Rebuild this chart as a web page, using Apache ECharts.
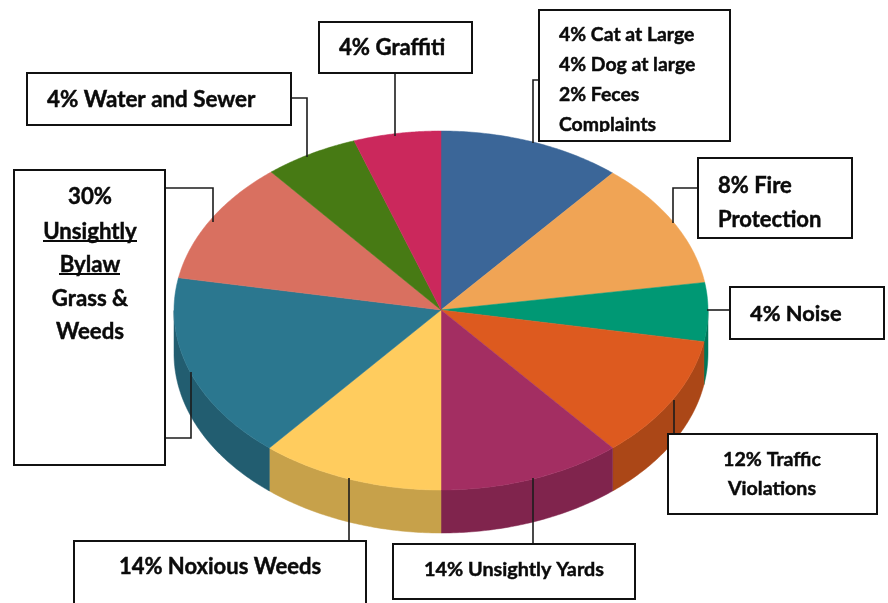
<!DOCTYPE html>
<html>
<head>
<meta charset="utf-8">
<style>html,body{margin:0;padding:0;background:#fff}#c{width:888px;height:603px}</style>
<script src="https://cdn.jsdelivr.net/npm/echarts@6/dist/echarts.min.js"></script>
</head>
<body>
<div id="c"></div>
<script>
// Slice sizes as drawn (angular degrees), clockwise from 12 o'clock
var categories = ['Cat, Dog, Feces', 'Fire Protection', 'Noise', 'Traffic Violations', 'Unsightly Yards', 'Noxious Weeds', 'Unsightly Bylaw', 'Grass & Weeds', 'Water and Sewer', 'Graffiti'];
var sliceValues = [40, 41, 19, 40, 40, 40, 60.5, 40, 20.5, 19];
var topColors = ['#3B6698', '#F0A455', '#009874', '#DD5A1F', '#A32E62', '#FFCC5E', '#2B778F', '#D97060', '#477A14', '#CB285C'];
var sideColors = ['#2E4F76', '#BC8042', '#00775A', '#AB4717', '#80244D', '#C7A14A', '#225D70', '#A9574A', '#375F10', '#9E1F48'];

var catLines = ['4% Cat at Large', '4% Dog at large', '2% Feces', 'Complaints'];
var fireLines = ['8% Fire', 'Protection'];
var noiseLabel = '4% Noise';
var trafficLines = ['12% Traffic', 'Violations'];
var yardsLabel = '14% Unsightly Yards';
var noxiousLabel = '14% Noxious Weeds';
var bylawLines = ['30%', 'Unsightly', 'Bylaw', 'Grass &', 'Weeds'];
var waterLabel = '4% Water and Sewer';
var graffitiLabel = '4% Graffiti';

var total = sliceValues.reduce(function (a, b) { return a + b; }, 0);
var CX = 441, CY = 310.5, RX = 267, RY = 179.5, DEPTH = 43;

function pt(a, dy) { return [CX + RX * Math.sin(a), CY - RY * Math.cos(a) + (dy || 0)]; }

function renderSlice(params, api) {
  var i = params.dataIndex, before = 0;
  for (var k = 0; k < i; k++) before += sliceValues[k];
  var a0 = before / total * 2 * Math.PI;
  var a1 = (before + api.value(0)) / total * 2 * Math.PI;
  var steps = 60, arc = [], t;
  for (t = 0; t <= steps; t++) arc.push(pt(a0 + (a1 - a0) * t / steps));
  var children = [];
  // side wall: only the front half of the rim is visible
  var s0 = Math.max(a0, Math.PI / 2), s1 = Math.min(a1, 1.5 * Math.PI);
  if (s1 > s0) {
    var up = [], down = [];
    for (t = 0; t <= steps; t++) {
      var a = s0 + (s1 - s0) * t / steps;
      up.push(pt(a));
      down.unshift(pt(a, DEPTH));
    }
    children.push({
      type: 'polygon', z2: 1,
      shape: { points: up.concat(down) },
      style: { fill: sideColors[i], stroke: sideColors[i], lineWidth: 0.5 }
    });
  }
  children.push({
    type: 'polygon', z2: 2,
    shape: { points: [[CX, 310]].concat(arc) },
    style: { fill: topColors[i], stroke: topColors[i], lineWidth: 0.5 }
  });
  return { type: 'group', children: children };
}

var FONT = 'Lato, Carlito, "Open Sans", sans-serif';
var INK = '#111';
function box(x0, y0, x1, y1) {
  return { type: 'rect', shape: { x: x0, y: y0, width: x1 - x0, height: y1 - y0 }, style: { fill: '#fff', stroke: INK, lineWidth: 2 } };
}
function frame(x0, y0, x1, y1) {
  return { type: 'rect', shape: { x: x0, y: y0, width: x1 - x0, height: y1 - y0 }, style: { fill: 'none', stroke: INK, lineWidth: 2 } };
}
function lead(pts) {
  return { type: 'polyline', shape: { points: pts }, style: { fill: 'none', stroke: '#1c1c1c', lineWidth: 1.6 } };
}
function rule(x0, x1, y) {
  return { type: 'polyline', shape: { points: [[x0, y], [x1, y]] }, style: { fill: 'none', stroke: '#0a0a0a', lineWidth: 2 } };
}
function txt(s, x, y, size, align) {
  return { type: 'text', style: { text: s, x: x, y: y, fill: '#0a0a0a', stroke: '#0a0a0a', lineWidth: 0.45, font: 'bold ' + size + 'px ' + FONT, textAlign: align || 'left', textVerticalAlign: 'middle' } };
}
function patch(x0, y0, x1, y1) {
  return { type: 'rect', shape: { x: x0, y: y0, width: x1 - x0, height: y1 - y0 }, style: { fill: '#fff' } };
}

var elements = [
  lead([[533, 143], [533, 80], [539, 80]]),
  lead([[673, 223], [673, 188], [698, 188]]),
  lead([[707, 310], [730, 310]]),
  lead([[674, 400], [674, 434]]),
  lead([[533, 478], [533, 544]]),
  lead([[349, 478], [349, 541]]),
  lead([[165, 188], [213, 188], [213, 222]]),
  lead([[165, 438], [191, 438], [191, 372]]),
  lead([[291, 98], [307, 98], [307, 157]]),
  lead([[395, 73], [395, 136]]),

  box(539, 10, 730, 141),
  txt(catLines[0], 559, 35, 19.4), txt(catLines[1], 559, 65, 19.4), txt(catLines[2], 559, 95, 19.4), txt(catLines[3], 559, 125, 19.4),
  patch(541, 132, 728, 140),
  frame(539, 10, 730, 141),

  box(698, 158, 852, 238),
  txt(fireLines[0], 718, 186, 22), txt(fireLines[1], 718, 220, 22),

  box(730, 287, 884, 339),
  txt(noiseLabel, 750, 314, 21.8),

  box(668, 434, 877, 514),
  txt(trafficLines[0], 772, 460, 19.6, 'center'), txt(trafficLines[1], 772, 489, 19.6, 'center'),

  box(393, 544, 635, 599),
  txt(yardsLabel, 514, 570, 19.8, 'center'),

  box(74, 541, 366, 620),
  txt(noxiousLabel, 220, 567, 22, 'center'),

  box(14, 170, 165, 465),
  txt(bylawLines[0], 90, 197, 22.2, 'center'), txt(bylawLines[1], 90, 232, 22.2, 'center'), txt(bylawLines[2], 90, 265, 22.2, 'center'),
  txt(bylawLines[3], 90, 299, 22.2, 'center'), txt(bylawLines[4], 90, 332, 22.2, 'center'),
  rule(43, 137, 241), rule(59, 120, 274),

  box(27, 73, 291, 125),
  txt(waterLabel, 47, 100, 22.4),

  box(319, 22, 472, 73),
  txt(graffitiLabel, 339, 48, 22.2)
];

var chart = echarts.init(document.getElementById('c'), null, { renderer: 'canvas' });
chart.setOption({
  animation: false,
  backgroundColor: '#fff',
  series: [{
    type: 'custom',
    coordinateSystem: 'none',
    renderItem: renderSlice,
    data: sliceValues.map(function (v, i) { return { name: categories[i], value: [v] }; }),
    silent: true,
    z: 1
  }],
  graphic: { elements: elements.map(function (e) { e.z = 10; e.silent = true; return e; }) }
});
</script>
</body>
</html>
